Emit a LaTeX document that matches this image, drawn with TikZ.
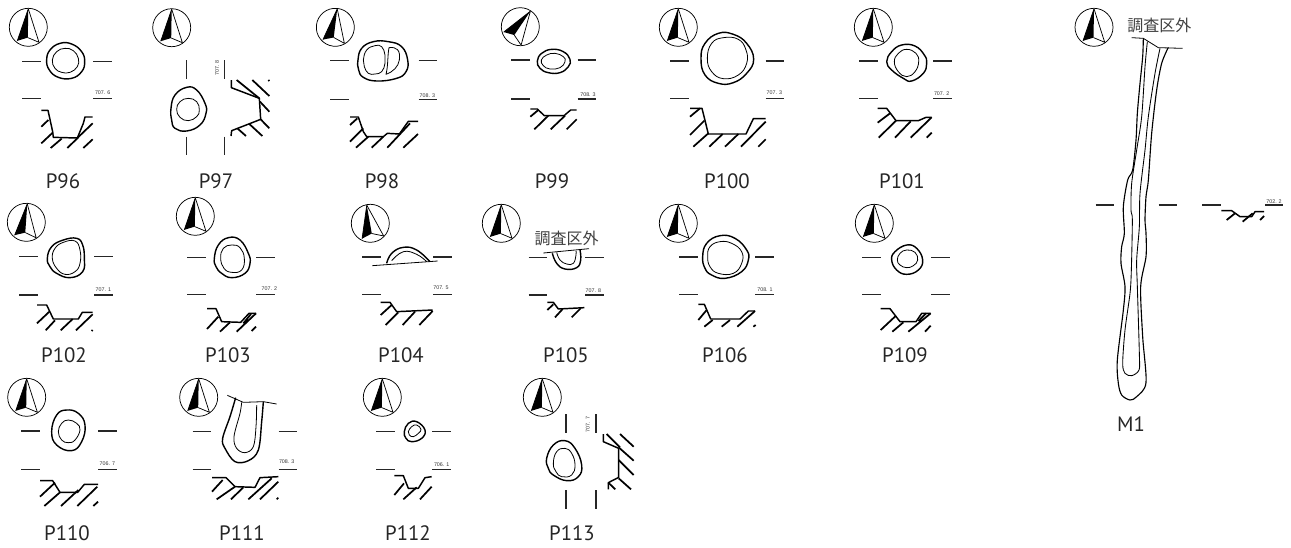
\documentclass[tikz,border=0pt]{standalone}
\usepackage{fontspec}
\setmainfont{PT Sans}
\newfontfamily\cjkfont{Noto Sans CJK JP}
\newfontfamily\elevfont{Liberation Sans}
\tikzset{
 zs/.style 2 args={xshift=#1*0.75pt,yshift=-#2*0.75pt,x=0.25pt,y=-0.25pt},
 planout/.style={line width=1.05pt,line join=round},
 planin/.style={line width=0.6pt,line join=round},
 cutline/.style={line width=1.1pt,line join=round},
 hatchline/.style={line width=1.3pt},
 sectline/.style={line width=0.8pt,black!85},
 elevtext/.style={font=\elevfont\fontsize{4}{4}\selectfont,text=black!80,inner sep=0pt},
 labtext/.style={font=\fontsize{15.6}{16}\selectfont,text=black!85,inner sep=0pt},
 outtext/.style={font=\cjkfont\fontsize{12}{12}\selectfont,text=black!75,inner sep=0pt},
}
\newcommand\compass[3]{%
 \begin{scope}[shift={(#1,#2)},rotate=#3]
  \draw[line width=0.55pt] (0,0) circle (19);
  \fill (0,-18.5) -- (-11,13.5) -- (-0.5,10.3) -- cycle;
  \draw[line width=0.55pt,line join=round] (-11,13.5) -- (0,-18.5) -- (10.7,15) -- (-0.5,10.3);
 \end{scope}}
\newcommand\plan[2][planout]{\draw[#1] plot[smooth cycle,tension=0.75] coordinates {#2};}
\newcommand\hlines[6]{\draw[sectline] (#1,#5) -- (#2,#5) (#3,#5) -- (#4,#5) (#1,#6) -- (#2,#6) (#3,#6) -- (#4,#6);}
\newcommand\vlines[6]{\draw[sectline] (#1,#3) -- (#1,#4) (#1,#5) -- (#1,#6) (#2,#3) -- (#2,#4) (#2,#5) -- (#2,#6);}
\begin{document}
\begin{tikzpicture}[x=0.75pt,y=-0.75pt]
\useasboundingbox (0,0) rectangle (1291,547);
% compasses
\compass{28.3}{27.3}{0}\compass{171.7}{27.7}{0}\compass{335.3}{27.3}{-6}\compass{520.3}{26.7}{-33}\compass{678.3}{27.3}{0}\compass{873.3}{27.3}{0}
\compass{26.3}{222.3}{-3}\compass{195.3}{216.3}{0}\compass{370.3}{223.3}{11}\compass{501.3}{223.3}{0}\compass{678.3}{223.3}{0}\compass{874.3}{223.3}{0}
\compass{26.7}{397.3}{0}\compass{198.7}{397.3}{0}\compass{382.3}{397.3}{0}\compass{542.3}{397.3}{0}\compass{1094}{27.3}{0}
% labels
\foreach \n/\x/\y in {P96/63/181,P97/216/181,P98/382/181,P99/552/181,P100/727/181,P101/902/181,
 P102/64/355,P103/228/355,P104/401/355,P105/566/355,P106/725/355,P109/905/355,
 P110/67/533,P111/242/533,P112/408/533,P113/572/533,M1/1131/424}
 \node[labtext] (l\n) at (\x,\y) {\n};
% ---- zoom 1
\begin{scope}[zs={0}{0}]
 \plan{(140,180)(150,150)(180,130)(215,132)(245,155)(254,185)(245,215)(215,235)(175,232)(148,210)}
 \plan[planin]{(157,180)(170,155)(195,145)(220,152)(235,175)(232,200)(210,217)(185,217)(165,205)}
 \hlines{67}{123}{280}{336}{184}{296}
 \node[elevtext] (e96) at (308,278) {707. 6};
 \draw[cutline] (124,331) -- (144,331) -- (158,395) -- (160,412) -- (232,414) -- (250,370) -- (255,351) -- (278,351);
 \draw[hatchline] (124,380) -- (145,360) (124,430) -- (158,398) (152,444) -- (185,416) (202,444) -- (235,412) (232,414) -- (278,370) (250,444) -- (278,418);
 % P97
 \plan{(513,325)(525,285)(560,262)(590,270)(615,310)(618,340)(600,375)(560,393)(525,385)(515,360)}
 \plan[planin]{(530,328)(540,305)(565,295)(590,305)(598,330)(590,350)(565,362)(540,352)}
 \vlines{559}{673}{181}{237}{410}{466}
 \node[elevtext,rotate=90] (e97) at (651,204) {707. 8};
 \draw[cutline] (694,240) -- (694,263) -- (778,295) -- (782,358) -- (695,392) -- (693,408);
 \draw[hatchline] (710,240) -- (778,295) (757,240) -- (808,288) (805,240) -- (808,243) (780,305) -- (808,335) (782,358) -- (808,385) (712,385) -- (738,408) (748,372) -- (787,408);
\end{scope}
% ---- zoom 2
\begin{scope}[zs={300}{0}]
 \plan{(174,180)(185,145)(220,125)(265,125)(305,140)(323,180)(318,215)(290,235)(230,243)(190,232)(176,210)}
 \plan[planin]{(190,180)(200,150)(225,137)(245,140)(255,165)(255,190)(245,215)(225,222)(205,220)(193,200)}
 \draw[planin] (267,143) .. controls (290,140) and (302,150) .. (298,180) .. controls (295,200) and (280,215) .. (258,223) .. controls (265,195) and (262,170) .. cycle;
 \hlines{90}{146}{356}{412}{182}{299}
 \node[elevtext] (e98) at (382,286) {708. 3};
 \draw[cutline] (150,351) -- (175,351) -- (190,395) -- (200,410) -- (250,410) -- (262,400) -- (298,402) -- (325,364) -- (354,364);
 \draw[hatchline] (150,375) -- (172,355) (150,425) -- (190,385) (168,443) -- (205,410) (215,443) -- (250,410) (262,443) -- (330,370) (310,443) -- (354,402);
 % P99
 \plan{(712,183)(725,160)(755,148)(790,155)(810,178)(805,200)(780,218)(745,218)(720,205)}
 \plan[planin]{(724,180)(740,165)(765,160)(790,170)(795,185)(780,203)(750,207)(730,197)}
 \hlines{633}{689}{833}{889}{180}{297}
 \node[elevtext] (e99) at (864,285) {708. 3};
 \draw[cutline] (691,327) -- (712,327) -- (733,347) -- (792,347) -- (812,330) -- (830,330);
 \draw[hatchline] (691,350) -- (715,330) (703,388) -- (745,347) (752,388) -- (795,347) (800,388) -- (830,358);
\end{scope}
% ---- zoom 3
\begin{scope}[zs={640}{0}]
 \plan{(183,175)(195,130)(235,100)(280,103)(320,130)(341,178)(320,220)(280,248)(235,250)(195,225)}
 \plan[planin]{(202,175)(215,130)(250,113)(295,118)(318,150)(320,190)(295,225)(250,236)(215,215)}
 \hlines{91}{147}{377}{433}{183}{296}
 \node[elevtext] (e100) at (403,279) {707. 3};
 \draw[cutline] (150,325) -- (186,325) -- (205,402) -- (318,402) -- (340,356) -- (377,356);
 \draw[hatchline] (150,350) -- (180,325) (150,405) -- (193,362) (160,440) -- (205,400) (208,440) -- (248,402) (255,440) -- (295,402) (303,440) -- (377,365) (355,440) -- (377,418);
 % P101
 \plan{(740,185)(755,155)(785,135)(825,138)(853,165)(860,190)(850,220)(815,243)(790,235)(755,210)}
 \plan[planin]{(763,185)(775,160)(800,148)(828,160)(836,185)(825,215)(800,230)(775,215)}
 \hlines{657}{713}{879}{935}{183}{296}
 \node[elevtext] (e101) at (905,280) {707. 2};
 \draw[cutline] (713,325) -- (740,325) -- (768,362) -- (835,362) -- (858,352) -- (875,352);
 \draw[hatchline] (713,368) -- (750,340) (716,413) -- (768,362) (765,413) -- (812,364) (812,413) -- (875,352) (860,413) -- (875,398);
\end{scope}
% ---- zoom 4
\begin{scope}[zs={0}{195}]
 \plan{(142,190)(155,155)(190,135)(230,130)(248,150)(253,190)(248,230)(210,248)(170,235)(150,215)}
 \plan[planin]{(157,190)(165,160)(190,142)(225,138)(240,165)(240,205)(225,230)(195,238)(170,220)}
 \hlines{57}{113}{283}{339}{184}{300}
 \node[elevtext] (e102) at (310,283) {707. 1};
 \draw[cutline] (111,330) -- (140,330) -- (160,372) -- (235,372) -- (247,352) -- (278,352);
 \draw[hatchline] (111,385) -- (148,350) (137,406) -- (165,376) (182,406) -- (218,372) (228,406) -- (278,358) (275,408) -- (278,405);
 % P103
 \plan{(643,190)(655,150)(685,128)(720,135)(745,175)(750,205)(735,235)(695,248)(665,235)(648,215)}
 \plan[planin]{(662,190)(670,160)(695,150)(720,158)(733,190)(725,225)(695,232)(672,220)}
 \hlines{562}{618}{768}{824}{187}{299}
 \node[elevtext] (e103) at (808,281) {707. 2};
 \draw[cutline] (621,341) -- (648,341) -- (665,380) -- (722,382) -- (747,355) -- (768,355);
 \draw[hatchline] (621,402) -- (655,365) (660,410) -- (690,382) (710,410) -- (768,355) (730,385) -- (753,357) (755,408) -- (768,395);
\end{scope}
% ---- zoom 5
\begin{scope}[zs={340}{195}]
 \draw[planout] plot[smooth,tension=0.75] coordinates {(140,205)(155,175)(190,157)(230,165)(270,200)};
 \draw[planin] plot[smooth,tension=0.75] coordinates {(155,197)(190,170)(230,178)(260,200)};
 \draw[planin] (97,212) -- (293,198);
 \hlines{66}{122}{279}{335}{186}{299}
 \node[elevtext] (e104) at (303,278) {707. 5};
 \draw[cutline] (122,322) -- (150,322) -- (170,350) -- (278,345);
 \draw[hatchline] (122,360) -- (155,330) (137,390) -- (175,352) (188,390) -- (225,350) (238,390) -- (278,348);
 % P105
 \draw[planout] plot[smooth,tension=0.75] coordinates {(637,175)(650,205)(675,222)(710,218)(722,195)(720,165)};
 \draw[planin] plot[smooth,tension=0.75] coordinates {(650,172)(660,195)(680,207)(700,205)(708,180)(708,168)};
 \draw[planin] (610,174) -- (747,161);
 \node[outtext] (o105) at (680,130) {調査区外};
 \hlines{566}{622}{735}{791}{188}{300}
 \node[elevtext] (e105) at (760,287) {707. 8};
 \draw[cutline] (622,322) -- (640,322) -- (655,342) -- (733,338);
 \draw[hatchline] (622,345) -- (640,328) (645,367) -- (668,342) (695,367) -- (722,340);
\end{scope}
% ---- zoom 6
\begin{scope}[zs={640}{195}]
 \plan{(188,185)(200,145)(240,122)(285,130)(320,165)(325,195)(305,230)(255,250)(215,240)(195,220)}
 \plan[planin]{(203,185)(210,155)(240,140)(275,145)(305,170)(305,205)(280,235)(235,235)(210,215)}
 \hlines{118}{174}{346}{402}{186}{299}
 \node[elevtext] (e106) at (375,284) {708. 1};
 \draw[cutline] (175,328) -- (193,328) -- (212,372) -- (300,372) -- (325,348) -- (345,348);
 \draw[hatchline] (175,375) -- (200,345) (193,395) -- (218,375) (245,395) -- (270,375) (292,395) -- (345,348) (340,395) -- (347,390);
 % P109
 \plan{(755,195)(765,170)(800,150)(830,160)(848,195)(835,225)(800,238)(770,225)}
 \plan[planin]{(772,195)(780,175)(800,165)(825,172)(833,195)(820,212)(800,218)(780,210)}
 \hlines{666}{722}{874}{930}{187}{299}
 \draw[cutline] (722,341) -- (750,341) -- (780,380) -- (828,380) -- (845,355) -- (872,355);
 \draw[hatchline] (722,405) -- (768,362) (757,410) -- (790,382) (805,410) -- (872,355) (835,378) -- (858,355) (855,410) -- (872,392);
\end{scope}
% ---- zoom 7
\begin{scope}[zs={0}{370}]
 \plan{(155,185)(170,135)(200,120)(235,130)(255,165)(245,215)(215,242)(170,225)}
 \plan[planin]{(175,185)(185,160)(205,150)(230,160)(240,180)(225,210)(205,218)(185,210)}
 \hlines{64}{120}{294}{350}{183}{298}
 \node[elevtext] (e110) at (322,282) {706. 7};
 \draw[cutline] (120,332) -- (158,332) -- (180,367) -- (233,367) -- (253,343) -- (294,343);
 \draw[hatchline] (120,380) -- (165,338) (133,408) -- (180,367) (183,408) -- (235,360) (232,408) -- (292,350) (280,408) -- (294,395);
 % P111
 \draw[planout] plot[smooth,tension=0.6] coordinates {(707,83)(690,140)(668,205)(675,235)(705,275)(745,272)(775,240)(785,155)(790,95)};
 \draw[planin] plot[smooth,tension=0.6] coordinates {(725,97)(720,130)(702,200)(710,235)(735,248)(760,230)(768,170)(770,105)};
 \draw[planin] (682,76) -- (730,97) -- (790,95) -- (830,102);
 \hlines{578}{634}{836}{892}{184}{298}
 \node[elevtext] (e111) at (860,275) {708. 3};
 \draw[cutline] (636,323) -- (678,323) -- (705,350) -- (765,352) -- (780,323) -- (835,320);
 \draw[hatchline] (636,365) -- (668,330) (650,388) -- (705,350) (693,388) -- (730,352) (745,388) -- (815,325) (780,388) -- (835,335) (830,388) -- (835,383);
\end{scope}
% ---- zoom 8
\begin{scope}[zs={340}{370}]
 \plan{(193,185)(205,160)(230,155)(255,180)(245,205)(215,215)(198,205)}
 \plan[planin]{(205,185)(215,170)(230,165)(243,178)(235,190)(220,200)(208,195)}
 \hlines{108}{164}{276}{332}{184}{298}
 \node[elevtext] (e112) at (305,285) {706. 1};
 \draw[cutline] (163,317) -- (190,317) -- (205,355) -- (235,355) -- (255,323) -- (275,320);
 \draw[hatchline] (163,375) -- (192,340) (190,388) -- (230,352) (240,388) -- (275,350);
 % P113
 \plan{(620,265)(640,225)(675,212)(705,235)(725,285)(715,320)(680,332)(640,315)(625,295)}
 \plan[planin]{(640,280)(650,245)(675,235)(695,250)(705,285)(695,315)(665,320)(648,305)}
 \vlines{678}{768}{133}{189}{360}{416}
 \node[elevtext,rotate=90] (e113) at (743,163) {707. 7};
 \draw[cutline] (790,192) -- (790,215) -- (836,235) -- (836,322) -- (805,338) -- (805,358);
 \draw[hatchline] (800,192) -- (840,232) (840,192) -- (881,230) (836,232) -- (881,272) (836,270) -- (881,315) (836,325) -- (873,358) (805,338) -- (826,358);
\end{scope}
% ---- M1
\begin{scope}[zs={1060}{0}]
 \draw[planout,line width=0.85pt] plot[smooth,tension=0.5] coordinates {(250,115)(248,170)(240,250)(232,340)(228,420)(218,510)(203,540)(190,620)(193,700)(185,740)(183,790)(195,860)(190,930)(172,1080)(175,1150)(185,1185)(210,1200)(230,1190)(258,1148)(248,1010)(242,860)(258,770)(258,700)(255,660)(258,590)(265,540)(275,400)(290,270)(305,190)(325,142)};
 \draw[planin,line width=0.65pt] plot[smooth,tension=0.5] coordinates {(262,125)(255,200)(245,350)(230,450)(215,550)(213,630)(217,660)(214,810)(210,880)(195,990)(188,1090)(195,1120)(215,1127)(237,1110)(238,1060)(232,860)(230,780)(238,680)(240,580)(255,450)(265,350)(285,220)(300,145)};
 \draw[planin] (215,113) -- (250,115) -- (295,143) -- (368,145);
 \node[outtext] (om1) at (298,77) {調査区外};
 \draw[sectline] (107,615) -- (163,615) (296,615) -- (352,615) (427,615) -- (483,615) (615,615) -- (670,615);
 \node[elevtext] (em1) at (642,605) {702. 2};
 \draw[cutline] (484,632) -- (515,632) -- (540,650) -- (575,650) -- (585,635) -- (612,635);
 \draw[hatchline] (500,660) -- (525,640) (548,665) -- (578,640) (600,660) -- (612,648);
\end{scope}
\end{tikzpicture}
\end{document}
